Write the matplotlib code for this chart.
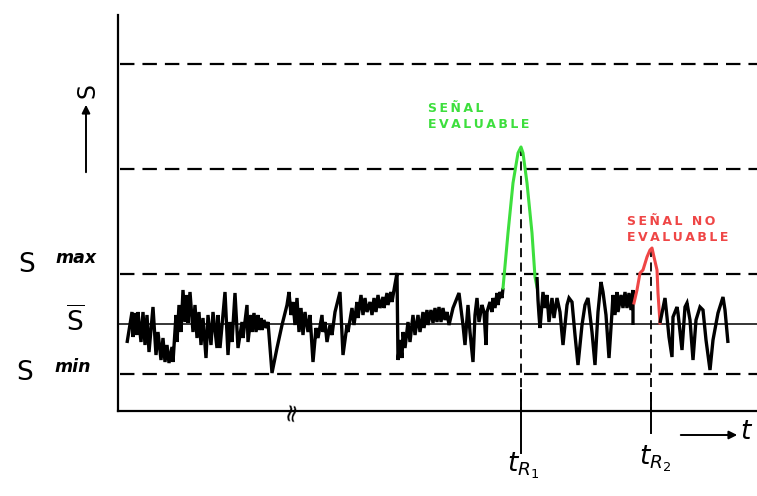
import matplotlib
matplotlib.use("Agg")
import matplotlib.pyplot as plt

plt.rcParams['mathtext.fontset'] = 'dejavusans'

# ---- data (S in arbitrary units, t in arbitrary time units) ----
levels_dashed = [50, 150, 255, 360]      # S_min, S_max, upper levels
level_mean = 100                          # S-bar
t_R1 = 403
t_R2 = 533

noise1_t = [9, 14, 15, 17, 19, 20, 23, 25, 27, 29, 31, 35, 38, 40, 43, 45, 47, 49, 51, 54,
            55, 58, 59, 61, 63, 65, 67, 69, 70, 72, 75, 77, 79, 81, 83, 85, 88, 90, 93, 95,
            99, 100, 102, 107, 110, 112, 114, 117, 120, 124, 125, 129, 130, 133, 134, 136, 138, 140, 141, 143,
            144, 146, 148, 150, 152, 154, 159, 164, 169, 171, 173, 175, 177, 179, 181, 183, 185, 187, 190, 192,
            195, 198, 200, 204, 205, 207, 209, 212, 214, 217, 222, 225, 229, 230, 234, 236, 239, 240, 243, 245,
            247, 249, 252, 254, 256, 258, 260, 262, 265, 266, 269, 270, 273, 274, 276, 279, 280, 282, 284, 285,
            287, 290, 292, 295, 297, 300, 302, 305, 306, 309, 310, 313, 315, 317, 319, 321, 323, 325, 327, 329,
            331, 335, 341, 345, 347, 350, 352, 355, 357, 359, 361, 364, 366, 368, 369, 372, 374, 375, 377, 379,
            380, 382, 384, 385]
noise1_s = [81, 112, 87, 111, 89, 112, 82, 112, 79, 109, 72, 117, 69, 92, 64, 86, 62, 79, 61, 77,
            62, 109, 82, 119, 92, 134, 102, 129, 101, 132, 92, 119, 86, 112, 79, 106, 66, 109, 79, 112,
            76, 109, 76, 132, 69, 102, 82, 131, 76, 102, 86, 119, 82, 109, 92, 111, 92, 109, 94, 106,
            94, 104, 96, 102, 76, 51, 76, 99, 119, 132, 109, 122, 99, 126, 92, 116, 89, 112, 92, 109,
            62, 96, 86, 109, 92, 102, 82, 99, 89, 112, 132, 69, 99, 92, 116, 99, 122, 106, 129, 109,
            126, 112, 122, 109, 126, 112, 129, 116, 127, 116, 131, 119, 132, 122, 134, 151, 64, 84, 66, 92,
            76, 102, 82, 109, 89, 109, 92, 112, 96, 114, 99, 114, 101, 116, 102, 117, 102, 116, 104, 112,
            99, 116, 131, 99, 79, 119, 92, 62, 109, 126, 102, 119, 112, 79, 112, 122, 112, 126, 116, 131,
            119, 132, 126, 136]

peak1_t = [385, 390, 395, 400, 403, 405, 409, 414, 417, 419]
peak1_s = [136, 191, 241, 271, 277, 271, 241, 191, 147, 137]

noise2_t = [419, 420, 421, 422, 425, 427, 429, 431, 434, 436, 439, 442, 445, 449, 451, 454, 457, 460, 464, 467,
            470, 474, 477, 480, 483, 485, 488, 491, 494, 495, 497, 499, 500, 503, 505, 507, 509, 511, 513, 515, 515]
noise2_s = [147, 124, 109, 96, 132, 116, 129, 102, 126, 106, 126, 112, 79, 119, 126, 122, 89, 59, 99, 119,
            126, 92, 59, 112, 142, 132, 109, 66, 112, 129, 109, 132, 112, 129, 116, 132, 116, 131, 114, 134, 99]

peak2_t = [516, 519, 522, 525, 529, 532, 534, 536, 539, 540, 542]
peak2_s = [121, 134, 151, 154, 167, 174, 176, 167, 154, 131, 101]

noise3_t = [542, 547, 549, 551, 554, 555, 559, 560, 564, 567, 569, 572, 575, 578, 582, 585, 588, 592, 595, 600,
            605, 607, 610]
noise3_s = [101, 126, 107, 87, 67, 107, 117, 111, 74, 117, 121, 104, 64, 104, 117, 114, 84, 54, 84, 111,
            127, 114, 81]

label_green = "SEÑAL\nEVALUABLE"
label_red = "SEÑAL NO\nEVALUABLE"

GREEN = "#3ddf3d"
RED = "#ef4646"


def spaced(s):
    return "\n".join("\u2009".join(line) for line in s.split("\n"))


fig = plt.figure(figsize=(7.57, 4.96), dpi=100)
ax = fig.add_axes([118 / 757, 85 / 496, 639 / 757, 396 / 496])
ax.set_xlim(0, 639)
ax.set_ylim(13, 409)
for side in ["top", "right"]:
    ax.spines[side].set_visible(False)
ax.spines["left"].set_linewidth(1.6)
ax.spines["bottom"].set_linewidth(1.6)
ax.set_xticks([])
ax.set_yticks([])

# horizontal reference levels
for lv in levels_dashed:
    ax.axhline(lv, xmin=0.003, xmax=1, color="black", lw=1.6, dashes=(6.5, 3.6))
ax.axhline(level_mean, color="black", lw=1.1)

# retention-time markers
ax.plot([t_R1, t_R1], [max(peak1_s), 13], color="black", lw=1.3, dashes=(5, 3))
ax.plot([t_R2, t_R2], [max(peak2_s), 13], color="black", lw=1.3, dashes=(5, 3))
ax.plot([t_R1, t_R1], [34, -29], color="black", lw=1.4, clip_on=False)
ax.plot([t_R2, t_R2], [31, -9], color="black", lw=1.4, clip_on=False)

# signal
kw = dict(lw=2.4, solid_joinstyle="miter", solid_capstyle="butt")
ax.plot(noise1_t, noise1_s, color="black", **kw)
ax.plot(peak1_t, peak1_s, color=GREEN, lw=2.2)
ax.plot(noise2_t, noise2_s, color="black", **kw)
ax.plot(peak2_t, peak2_s, color=RED, lw=2.2)
ax.plot(noise3_t, noise3_s, color="black", **kw)

# annotations
ax.text(310, 322, spaced(label_green), color=GREEN, fontsize=9, fontweight="bold",
        ha="left", va="top", linespacing=1.3)
ax.text(509, 209, spaced(label_red), color=RED, fontsize=9, fontweight="bold",
        ha="left", va="top", linespacing=1.3)

# y-axis labels
ax.text(-91, 159, "S", fontsize=19, ha="center", va="center", clip_on=False)
ax.text(-42, 166, "max", fontsize=12.5, fontweight="bold", style="italic",
        ha="center", va="center", clip_on=False)
ax.text(-43, 103, r"$\overline{\mathrm{S}}$", fontsize=19, ha="center", va="center", clip_on=False)
ax.text(-93, 51, "S", fontsize=19, ha="center", va="center", clip_on=False)
ax.text(-45, 57, "min", fontsize=12.5, fontweight="bold", style="italic",
        ha="center", va="center", clip_on=False)

# S arrow
ax.annotate("", xy=(-32, 322), xytext=(-32, 249), xycoords="data",
            arrowprops=dict(arrowstyle="-|>", color="black", lw=1.4, mutation_scale=12),
            annotation_clip=False)
ax.text(-31, 334, "S", fontsize=17, rotation=90, ha="center", va="center", clip_on=False)

# t arrow
ax.annotate("", xy=(622, -11), xytext=(560, -11), xycoords="data",
            arrowprops=dict(arrowstyle="-|>", color="black", lw=1.4, mutation_scale=12),
            annotation_clip=False)
ax.text(628, -8, "t", fontsize=19, style="italic", ha="center", va="center", clip_on=False)

# retention time labels
ax.text(t_R1 + 2, -42, r"$t_{R_1}$", fontsize=19, ha="center", va="center", clip_on=False)
ax.text(t_R2 + 4, -35, r"$t_{R_2}$", fontsize=19, ha="center", va="center", clip_on=False)

# axis break mark
ax.text(174, 13, "≈", fontsize=18, rotation=80, ha="center", va="center", clip_on=False)

fig.savefig("out.png", dpi=100)
